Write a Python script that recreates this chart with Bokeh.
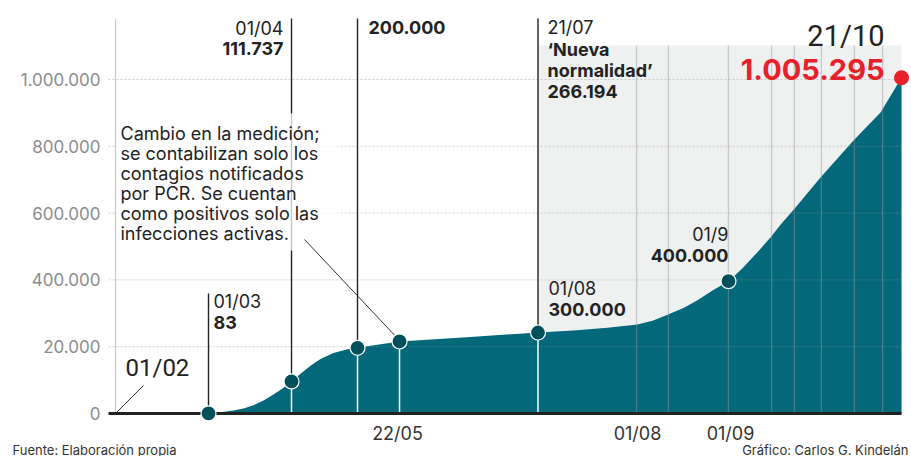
from bokeh.plotting import figure
from bokeh.models import Range1d
from bokeh.core.properties import value
from bokeh.embed import file_html
from bokeh.resources import INLINE

# ---- data (stylised, non-linear time axis: position units) ----
curve_x = [19.33, 31.0, 35.0, 39.33, 42.67, 46.0, 49.33, 52.67, 56.0, 58.67, 61.67, 65.0,
           68.33, 72.67, 77.33, 80.67, 85.0, 94.67, 118.33, 140.83, 152.67, 164.0, 174.0,
           179.0, 184.0, 189.33, 194.0, 199.0, 204.33, 209.0, 214.0, 218.33, 221.67, 226.67,
           235.0, 246.0, 255.0, 262.0]
curve_y = [3000, 3000, 3900, 9000, 15000, 25000, 39000, 57000, 77000, 96000, 119000, 143000,
           163000, 181000, 192500, 196700, 203000, 215600, 229000, 242500, 248500, 256600, 266500,
           278000, 296000, 316000, 339000, 368000, 396100, 435000, 483000, 527000, 565000, 616800,
           706600, 817400, 901200, 1005295]

event_x = [31.0, 58.67, 80.67, 94.67, 140.83, 204.33]
event_y = [83, 96000, 196700, 215600, 242500, 396100]

last_x = [262.0]
last_y = [1005295]

week_lines_x = [173.7, 184.3, 204.3, 218.7, 226.3, 235.3, 246.3, 255.7]

y_ticks = [0, 200000, 400000, 600000, 800000, 1000000]
y_labels = ["0", "20.000", "400.000", "600.000", "800.000", "1.000.000"]

x_ticks = [94, 174, 205]
x_labels = ["22/05", "01/08", "01/09"]

gray_zone = [140.83, 262.0]

# ---- layout helpers (page pixel -> data units) ----
def ux(px):
    return (px - 115) / 3.0

def vy(py):
    return (413 - py) / 334.0 * 1e6

FONT = value("Inter")
TEAL = "#03687a"
DARK_TEAL = "#00505c"
RED = "#e8202a"
INK = "#222222"

W, H = 910, 456
p = figure(width=W, height=H,
           x_range=Range1d(ux(0), ux(W)), y_range=Range1d(vy(H), vy(0)),
           output_backend="svg", toolbar_location=None,
           min_border=0, min_border_left=0, min_border_right=0,
           min_border_top=0, min_border_bottom=0)
p.outline_line_color = None
p.background_fill_color = "white"
p.border_fill_color = "white"
p.axis.visible = False
p.xgrid.visible = False
p.ygrid.visible = False

top_v = vy(18)
x_left = ux(108)

# gray "nueva normalidad" zone
p.quad(left=[gray_zone[0]], right=[gray_zone[1]], bottom=[0], top=[vy(45)],
       fill_color="#eff0f0", line_color=None)

# start line
p.segment(x0=[0], y0=[0], x1=[0], y1=[top_v], line_color="#c8c8c8", line_width=1.2)

# area
p.varea(x=curve_x, y1=[0] * len(curve_x), y2=curve_y, fill_color=TEAL)

# horizontal dotted grid
gy = y_ticks[1:]
p.segment(x0=[x_left] * len(gy), y0=gy, x1=[gray_zone[1]] * len(gy), y1=gy,
          line_color="#9a9a9a", line_alpha=0.45, line_width=1, line_dash="2 2")

# vertical lines in gray zone
p.segment(x0=week_lines_x, y0=[0] * len(week_lines_x), x1=week_lines_x,
          y1=[vy(45)] * len(week_lines_x), line_color="#9a9a9a", line_alpha=0.45, line_width=1.3)

# white lines under the event points
wx = event_x[1:5]
wy = event_y[1:5]
p.segment(x0=wx, y0=[0] * len(wx), x1=wx, y1=wy, line_color="white", line_width=1.5)

# black lines above the event points
bx = [event_x[0], event_x[1], event_x[2], event_x[4]]
by = [event_y[0], event_y[1], event_y[2], event_y[4]]
btop = [vy(293), top_v, top_v, top_v]
p.segment(x0=bx, y0=by, x1=bx, y1=btop, line_color=INK, line_width=1.4)

# note box background
p.quad(left=[ux(116)], right=[ux(337)], bottom=[vy(250)], top=[vy(113)],
       fill_color="white", fill_alpha=0.75, line_color=None)

# leader lines
p.segment(x0=[ux(304)], y0=[vy(239)], x1=[event_x[3] - 0.3], y1=[event_y[3] + 6000],
          line_color="#333333", line_width=1)
p.segment(x0=[0], y0=[0], x1=[ux(143)], y1=[vy(385)], line_color="#333333", line_width=1)

# baseline
p.segment(x0=[x_left], y0=[0], x1=[gray_zone[1]], y1=[0], line_color=INK, line_width=3)

# points
p.scatter(event_x, event_y, size=15, fill_color=DARK_TEAL, line_color="white", line_width=1.2)
p.scatter(last_x, last_y, size=15, fill_color=RED, line_color=None)

# axis tick labels
p.text(x=[ux(100)] * len(y_ticks), y=y_ticks, text=y_labels, text_font=FONT,
       text_font_size=value("17px"), text_align="right", text_baseline="middle",
       text_color="#8c8c8c")
p.text(x=x_ticks, y=[vy(433)] * len(x_ticks), text=x_labels, text_font=FONT,
       text_font_size=value("18px"), text_align="center", text_baseline="middle",
       text_color="#333333")

def txt(px, py, s, size="18px", bold=False, align="left", color=INK, font=FONT):
    p.text(x=[ux(px)], y=[vy(py)], text=[s], text_font=font, text_font_size=value(size),
           text_font_style="bold" if bold else "normal", text_align=align,
           text_baseline="middle", text_color=color)

txt(283, 28, "01/04", align="right")
txt(283, 48, "111.737", bold=True, align="right")
txt(368, 27, "200.000", bold=True)
txt(547, 27, "21/07")
txt(547, 49, "\u2018Nueva", bold=True)
txt(547, 70, "normalidad\u2019", bold=True)
txt(547, 91, "266.194", bold=True)
txt(213, 301, "01/03")
txt(213, 322, "83", bold=True)
txt(548, 288, "01/08")
txt(548, 309, "300.000", bold=True)
txt(728, 234, "01/9", align="right")
txt(728, 255, "400.000", bold=True, align="right")
txt(884, 35, "21/10", size="29px", align="right", font=value("Roboto"))
txt(884, 69, "1.005.295", size="29px", bold=True, align="right", color=RED)
txt(125, 367, "01/02", size="24px", font=value("Roboto"))

note = ["Cambio en la medici\u00f3n;", "se contabilizan solo los", "contagios notificados",
        "por PCR. Se cuentan", "como positivos solo las", "infecciones activas."]
for i, line in enumerate(note):
    txt(120, 133 + 20 * i, line, size="18px")

txt(12, 449, "Fuente: Elaboraci\u00f3n propia", size="13px", color="#333333")
txt(908, 449, "Gr\u00e1fico: Carlos G. Kindel\u00e1n", size="13px", align="right", color="#333333")

open("out.html", "w").write(file_html(p, INLINE))
